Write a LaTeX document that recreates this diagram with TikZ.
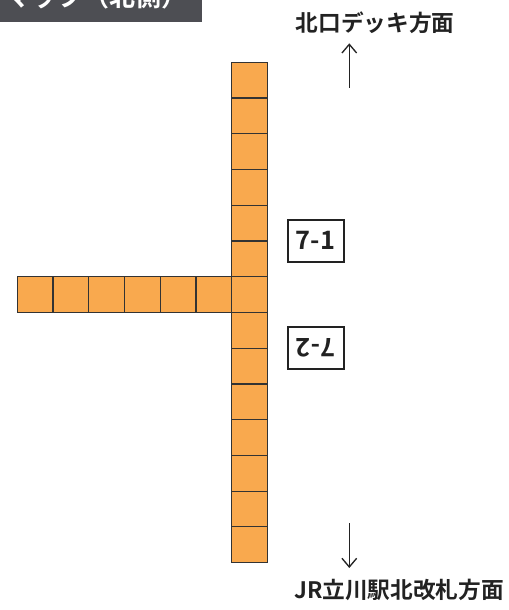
\documentclass[tikz,border=0pt]{standalone}
\usepackage{fontspec}
\setmainfont{Noto Sans CJK JP}[BoldFont={Noto Sans CJK JP Bold}]
\usetikzlibrary{arrows.meta,positioning}
\definecolor{cellfill}{HTML}{F9A94E}
\definecolor{cellline}{HTML}{333333}
\definecolor{headbg}{HTML}{4D4E53}
\definecolor{ink}{HTML}{222222}

\begin{document}
\begin{tikzpicture}[x=0.75pt, y=-0.75pt,
  every node/.style={font=\bfseries\fontsize{17pt}{20pt}\selectfont, text=ink},
  cell/.style={draw=cellline, fill=cellfill, line width=0.9pt, minimum size=26.8pt, inner sep=0pt, outer sep=0pt},
  stopbox/.style={draw=ink, line width=1.5pt, fill=white, minimum width=42pt, minimum height=31.5pt, inner sep=0pt,
    font=\bfseries\fontsize{19pt}{22pt}\selectfont},
  arr/.style={-{Straight Barb[length=6.5pt, width=11pt]}, line width=1pt, draw=ink}]
\useasboundingbox (0,0) rectangle (509,610);
% header band, cut at the top edge
\fill[headbg] (0,0) rectangle (202,21.7);
\begin{scope}
  \clip (0,0) rectangle (202,21.7);
  \node[anchor=base east, text=white, inner sep=0pt, font=\bfseries\fontsize{19.5pt}{22pt}\selectfont] (head) at (188,7) {マップ（北側）};
\end{scope}
% column of cells
\node[cell] (col-1) at (249.5,80.2) {};
\foreach \i [remember=\i as \prev (initially 1)] in {2,...,14}
  \node[cell, below=0pt of col-\prev] (col-\i) {};
% row of cells to the left of the crossing
\node[cell, left=0pt of col-7] (row-6) {};
\foreach \j [remember=\j as \prev (initially 6)] in {5,4,...,1}
  \node[cell, left=0pt of row-\prev] (row-\j) {};
% stops
\node[stopbox] (stop-1) at (315.5,240.5) {7-1};
\node[stopbox, rotate=180] (stop-2) at (315.5,348) {7-2};
% directions
\node (deck) at (375,23) {北口デッキ方面};
\node (gate) at (399,590) {JR立川駅北改札方面};
\coordinate (up-tail) at (349.3,88);
\coordinate (up-tip) at (349.3,43.3);
\coordinate (down-tail) at (349.3,523);
\coordinate (down-tip) at (349.3,568);
\draw[arr] (up-tail) -- (up-tip);
\draw[arr] (down-tail) -- (down-tip);
\end{tikzpicture}
\end{document}
